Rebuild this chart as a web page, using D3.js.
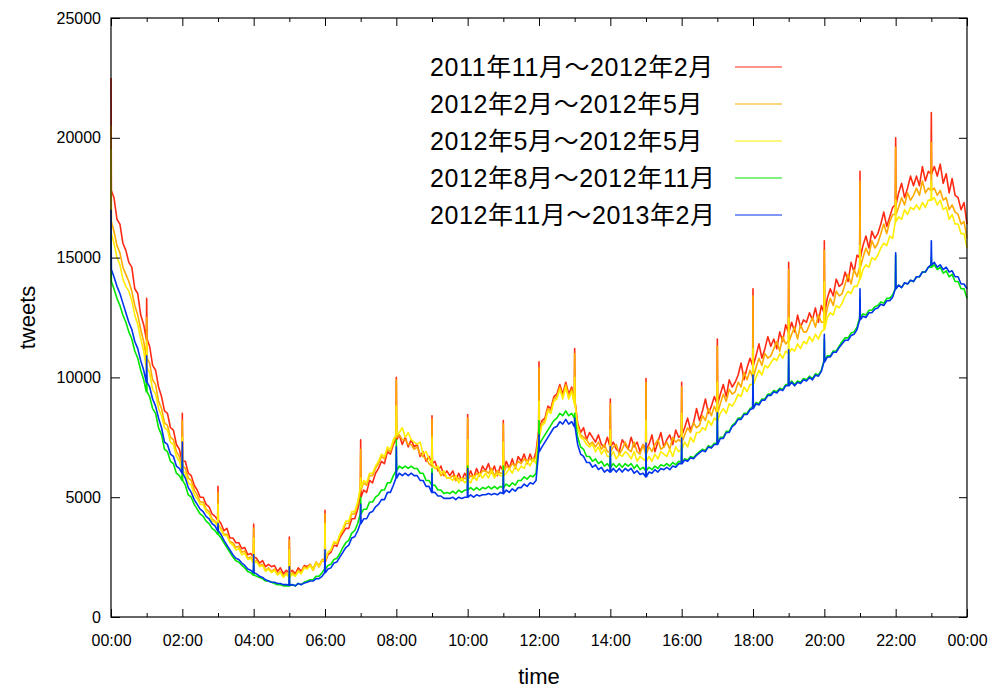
<!DOCTYPE html>
<html>
<head>
<meta charset="utf-8">
<script src="https://cdnjs.cloudflare.com/ajax/libs/d3/7.8.5/d3.min.js"></script>
<style>
  body { margin: 0; background: #fff; }
  svg { display: block; }
</style>
</head>
<body>
<div id="chart"></div>
<script>
// Chart size and plot frame
const width = 994;
const height = 690;
const margin = { top: 18, right: 27, bottom: 73, left: 111 };

// Legend labels
const seriesNames = [
    "2011年11月〜2012年2月",
    "2012年2月〜2012年5月",
    "2012年5月〜2012年5月",
    "2012年8月〜2012年11月",
    "2012年11月〜2013年2月"
];
const seriesColors = ["#ff2a14", "#ffaa00", "#ffee00", "#00e600", "#0033ee"];

// Axis ticks
const yTicks = [0, 5000, 10000, 15000, 20000, 25000];
const xMajorTicks = [0, 120, 240, 360, 480, 600, 720, 840, 960, 1080, 1200, 1320, 1440];
const xMinorTicks = [60, 180, 300, 420, 540, 660, 780, 900, 1020, 1140, 1260, 1380];
const xTickLabels = ["00:00", "02:00", "04:00", "06:00", "08:00", "10:00", "12:00",
    "14:00", "16:00", "18:00", "20:00", "22:00", "00:00"];

// Tweets per minute, sampled every 5 minutes (one row = one hour, last value = 24:00)
const red = [
    17800, 17500, 16600, 16400, 15600, 15300, 14800, 14600, 13700, 13500, 12600, 12200,
    11600, 11300, 10500, 10300, 9600, 9200, 8600, 8500, 7900, 7800, 7200, 7000,
    6500, 6500, 6000, 5900, 5500, 5300, 5000, 5000, 4700, 4600, 4300, 4200,
    4050, 3900, 3600, 3700, 3300, 3300, 3100, 3100, 2850, 2900, 2600, 2650,
    2500, 2450, 2250, 2350, 2100, 2200, 2100, 2150, 1900, 2050, 1800, 1950,
    1850, 1950, 1800, 2050, 1900, 2150, 2100, 2200, 1950, 2250, 2100, 2350,
    2300, 2600, 2700, 3000, 2950, 3300, 3500, 3700, 3700, 4100, 4100, 4500,
    5000, 5300, 5200, 5700, 5600, 6000, 6200, 6500, 6400, 6900, 6800, 7200,
    7400, 7600, 7200, 7500, 7100, 7400, 7100, 7200, 6700, 6900, 6500, 6700,
    6400, 6500, 6100, 6300, 5900, 6100, 5900, 6100, 5700, 6000, 5700, 6000,
    5800, 6100, 5800, 6200, 5900, 6300, 6100, 6400, 6000, 6300, 5900, 6300,
    6100, 6500, 6200, 6600, 6200, 6700, 6500, 6800, 6400, 6800, 6500, 6900,
    7800, 8200, 8300, 8800, 8700, 9200, 9300, 9700, 9300, 9800, 9300, 9600,
    9000, 8100, 7700, 7900, 7400, 7700, 7500, 7300, 7600, 7200, 7100, 7500,
    7100, 7300, 7000, 6900, 7400, 7200, 7000, 7500, 7100, 7300, 6900, 7200,
    7000, 7200, 7600, 6900, 7300, 7700, 7100, 7400, 7600, 7200, 7800, 7500,
    7600, 7900, 8300, 7800, 8100, 8700, 8200, 8600, 9100, 8500, 8800, 9200,
    8900, 9300, 9700, 9200, 9900, 9600, 9800, 10100, 10600, 9900, 10400, 10800,
    10500, 10900, 11400, 10800, 11200, 11700, 11300, 11600, 11200, 11900, 11500, 12200,
    11900, 12300, 11900, 12600, 12100, 12400, 12300, 12700, 12400, 12900, 12300, 13000,
    12700, 13300, 13700, 13400, 14100, 13800, 13900, 14400, 14000, 14800, 14400, 15100,
    15000, 15500, 15900, 15400, 16100, 15800, 16000, 16400, 16900, 16300, 16700, 17100,
    17200, 17700, 18100, 17500, 17900, 18400, 18000, 18400, 18000, 18800, 18200, 18600,
    18500, 18800, 18400, 18900, 18100, 18500, 17700, 18300, 17600, 17500, 17000, 17300,
    16400
];
const orange = [
    16500, 16100, 15500, 15200, 14600, 14300, 14000, 13600, 13000, 12600, 12000, 11500,
    10800, 10600, 9900, 9700, 9000, 8700, 8100, 8000, 7500, 7400, 6900, 6700,
    6300, 6200, 5800, 5700, 5300, 5100, 4800, 4800, 4500, 4400, 4100, 4000,
    3850, 3700, 3450, 3450, 3150, 3100, 2900, 2950, 2700, 2750, 2450, 2500,
    2300, 2350, 2150, 2200, 1950, 2050, 1900, 2000, 1800, 1900, 1700, 1850,
    1700, 1850, 1750, 1950, 1850, 2100, 2050, 2200, 2000, 2300, 2150, 2400,
    2400, 2700, 2800, 3100, 3050, 3400, 3600, 3900, 3900, 4300, 4300, 4700,
    5300, 5600, 5500, 5900, 5900, 6200, 6400, 6700, 6600, 7000, 6900, 7300,
    7500, 7600, 7400, 7400, 7200, 7200, 7000, 7100, 6800, 6700, 6600, 6400,
    6300, 6200, 6200, 5900, 6000, 5800, 5800, 5900, 5700, 5800, 5700, 5800,
    5750, 5900, 5800, 6000, 5900, 6100, 6100, 6000, 6200, 5900, 6100, 6000,
    6000, 6300, 6200, 6400, 6300, 6500, 6400, 6600, 6500, 6600, 6500, 6700,
    7700, 8100, 8200, 8700, 8600, 9100, 9200, 9600, 9200, 9700, 9200, 9500,
    9000, 8000, 7600, 7500, 7400, 7200, 7300, 7100, 7300, 7000, 7200, 6900,
    6900, 7100, 7200, 6800, 7000, 7300, 7000, 6900, 7300, 6900, 6800, 7200,
    6800, 7100, 6900, 7200, 7400, 7000, 7100, 7300, 7000, 7500, 7300, 7400,
    7300, 7600, 7900, 7700, 8100, 7900, 8000, 8400, 8200, 8700, 8400, 8800,
    8500, 8900, 9300, 9000, 9500, 9300, 9400, 9800, 9600, 10200, 9900, 10300,
    10000, 10400, 10800, 10500, 11000, 10800, 10900, 11200, 11500, 11100, 11700, 11400,
    11500, 11800, 12100, 11600, 12200, 11900, 11900, 12200, 12500, 12100, 12600, 12300,
    12300, 12900, 13300, 13000, 13600, 13400, 13500, 13900, 14300, 13900, 14500, 14200,
    14600, 15000, 15400, 15100, 15700, 15400, 15600, 16000, 16400, 16000, 16500, 16800,
    16800, 17100, 17500, 17200, 17700, 17400, 17600, 17900, 17600, 18200, 17700, 17900,
    17800, 17900, 17600, 17800, 17400, 17500, 17000, 17200, 16900, 16800, 16400, 16500,
    15800
];
const yellow = [
    16000, 15600, 15000, 14700, 14100, 13800, 13600, 13200, 12600, 12200, 11600, 11100,
    10400, 10200, 9500, 9300, 8700, 8400, 7900, 7800, 7300, 7200, 6700, 6500,
    6100, 6000, 5600, 5500, 5100, 4950, 4700, 4700, 4400, 4300, 4000, 3950,
    3800, 3650, 3400, 3400, 3100, 3000, 2800, 2850, 2600, 2650, 2400, 2450,
    2250, 2300, 2100, 2150, 1900, 2000, 1850, 1950, 1750, 1850, 1650, 1800,
    1650, 1800, 1700, 1900, 1800, 2050, 2000, 2150, 1950, 2250, 2100, 2350,
    2350, 2700, 2800, 3150, 3100, 3450, 3700, 4000, 4000, 4400, 4400, 4800,
    5400, 5700, 5600, 6000, 6000, 6300, 6500, 6800, 6700, 7100, 7000, 7400,
    7600, 7700, 7900, 7500, 7700, 7400, 7300, 7200, 7300, 6800, 6900, 6600,
    6400, 6200, 6300, 6000, 6100, 5800, 5800, 5700, 5900, 5600, 5800, 5600,
    5700, 5600, 5900, 5700, 6000, 5800, 6000, 5800, 6100, 5800, 6000, 5900,
    5900, 6000, 6200, 6000, 6300, 6100, 6300, 6200, 6500, 6300, 6600, 6400,
    7500, 8000, 8100, 8600, 8500, 9000, 9100, 9500, 9100, 9600, 9100, 9400,
    8900, 7900, 7500, 7400, 7200, 7100, 7200, 6900, 7100, 6800, 7000, 6700,
    6700, 6900, 6600, 6800, 6700, 6900, 6800, 6600, 6900, 6500, 6700, 6600,
    6500, 6700, 6500, 6800, 6600, 6900, 6800, 6700, 7000, 6700, 7100, 6900,
    7000, 7300, 7100, 7500, 7300, 7700, 7700, 7900, 7800, 8200, 8000, 8300,
    8200, 8500, 8700, 8500, 8900, 8800, 9000, 9300, 9200, 9600, 9400, 9700,
    9700, 10000, 10300, 10100, 10500, 10400, 10600, 10800, 10700, 11000, 10800, 11100,
    11000, 11200, 11100, 11400, 11200, 11500, 11400, 11700, 11500, 11800, 11600, 11900,
    12000, 12500, 12700, 12600, 13000, 12900, 13100, 13400, 13600, 13500, 13800, 13800,
    14100, 14500, 14700, 14600, 15000, 14900, 15100, 15400, 15600, 15500, 15900, 15800,
    16500, 16700, 16600, 17000, 16800, 17100, 17000, 17200, 17000, 17300, 17100, 17400,
    17400, 17500, 17200, 17400, 17000, 17100, 16600, 16800, 16400, 16400, 16000, 16000,
    15400
];
const green = [
    14000, 13700, 13300, 13000, 12600, 12300, 11900, 11600, 11100, 10800, 10300, 9900,
    9400, 9200, 8700, 8500, 7900, 7600, 7000, 6900, 6500, 6400, 6000, 5900,
    5700, 5500, 5100, 5000, 4700, 4500, 4300, 4200, 4000, 3900, 3700, 3600,
    3450, 3300, 3100, 2900, 2700, 2500, 2350, 2300, 2150, 2050, 1900, 1850,
    1750, 1700, 1650, 1600, 1500, 1500, 1450, 1400, 1350, 1350, 1300, 1300,
    1300, 1350, 1300, 1400, 1350, 1450, 1500, 1550, 1550, 1700, 1700, 1850,
    2000, 2150, 2200, 2400, 2450, 2650, 2900, 3100, 3200, 3500, 3600, 3900,
    4300, 4500, 4500, 4800, 4800, 5000, 5100, 5300, 5300, 5600, 5600, 5900,
    6100, 6300, 6200, 6300, 6200, 6300, 6200, 6200, 6000, 6000, 5700, 5700,
    5500, 5500, 5300, 5300, 5150, 5200, 5150, 5250, 5150, 5300, 5200, 5300,
    5300, 5400, 5300, 5400, 5300, 5400, 5350, 5450, 5350, 5450, 5350, 5450,
    5400, 5550, 5450, 5600, 5500, 5700, 5700, 5850, 5750, 5900, 5850, 6000,
    7200, 7400, 7600, 7800, 8000, 8200, 8300, 8500, 8400, 8600, 8400, 8500,
    8300, 7500, 7100, 7000, 6700, 6700, 6500, 6600, 6400, 6500, 6300, 6400,
    6250, 6400, 6250, 6400, 6250, 6400, 6300, 6400, 6200, 6350, 6150, 6250,
    6100, 6250, 6150, 6300, 6200, 6350, 6300, 6400, 6300, 6450, 6350, 6500,
    6450, 6600, 6550, 6700, 6650, 6800, 6900, 7000, 6950, 7150, 7100, 7250,
    7250, 7500, 7500, 7750, 7750, 8000, 8100, 8300, 8300, 8500, 8500, 8700,
    8750, 8950, 8900, 9100, 9100, 9300, 9300, 9450, 9400, 9550, 9500, 9700,
    9700, 9850, 9700, 9850, 9800, 9950, 9900, 10050, 9950, 10150, 10100, 10300,
    10700, 10900, 10900, 11100, 11100, 11300, 11500, 11650, 11650, 11850, 11900, 12100,
    12500, 12650, 12600, 12800, 12800, 12950, 13000, 13150, 13100, 13300, 13300, 13450,
    13700, 13850, 13750, 13950, 13900, 14050, 14000, 14200, 14200, 14400, 14400, 14600,
    14600, 14700, 14500, 14600, 14350, 14450, 14200, 14300, 14000, 14000, 13700, 13700,
    13300
];
const blue = [
    14500, 14200, 13800, 13500, 13100, 12700, 12300, 12000, 11500, 11200, 10700, 10300,
    9800, 9600, 9100, 8800, 8300, 7900, 7300, 7200, 6800, 6700, 6300, 6200,
    6000, 5800, 5400, 5200, 4900, 4700, 4500, 4400, 4200, 4100, 3900, 3800,
    3600, 3450, 3200, 3000, 2800, 2600, 2450, 2400, 2250, 2150, 2000, 1950,
    1850, 1800, 1700, 1650, 1550, 1500, 1450, 1450, 1400, 1400, 1350, 1350,
    1330, 1350, 1300, 1400, 1350, 1420, 1450, 1500, 1500, 1600, 1600, 1700,
    1850, 2000, 2050, 2250, 2300, 2500, 2700, 2900, 3000, 3300, 3350, 3600,
    3900, 4100, 4100, 4350, 4400, 4600, 4700, 4900, 4900, 5200, 5200, 5500,
    5800, 6000, 5900, 6000, 5900, 6000, 5900, 5900, 5700, 5700, 5450, 5450,
    5200, 5200, 5050, 5050, 4950, 4950, 4950, 5000, 4900, 5000, 4950, 5000,
    5000, 5100, 5000, 5100, 5050, 5100, 5100, 5150, 5100, 5150, 5100, 5200,
    5150, 5300, 5200, 5350, 5250, 5400, 5400, 5550, 5450, 5600, 5550, 5700,
    6900, 7100, 7300, 7500, 7700, 7900, 7950, 8150, 8050, 8250, 8050, 8150,
    7950, 7200, 6800, 6700, 6450, 6450, 6250, 6350, 6150, 6250, 6050, 6150,
    6050, 6200, 6050, 6200, 6050, 6200, 6100, 6200, 6000, 6100, 5950, 6000,
    5850, 6050, 6000, 6150, 6050, 6200, 6150, 6250, 6150, 6300, 6250, 6400,
    6400, 6550, 6500, 6650, 6600, 6750, 6850, 6950, 6900, 7100, 7050, 7200,
    7200, 7450, 7450, 7700, 7700, 7950, 8050, 8250, 8250, 8450, 8450, 8650,
    8700, 8900, 8850, 9050, 9050, 9250, 9250, 9400, 9350, 9500, 9450, 9650,
    9650, 9800, 9650, 9800, 9750, 9900, 9850, 10000, 9900, 10100, 10050, 10250,
    10650, 10850, 10850, 11050, 11050, 11250, 11400, 11550, 11550, 11750, 11800, 12000,
    12400, 12550, 12500, 12700, 12700, 12850, 12900, 13050, 13000, 13200, 13200, 13350,
    13700, 13850, 13750, 13950, 13900, 14050, 14000, 14200, 14200, 14400, 14400, 14600,
    14700, 14800, 14600, 14700, 14500, 14600, 14400, 14450, 14200, 14200, 13900, 13900,
    13700
];

// On-the-hour spikes (00:00 .. 23:00)
const redSpikes = [22500, 13300, 8500, 5450, 3880, 3340, 4450, 7400, 10000, 8400, 8450, 8200,
    10650, 11200, 9100, 9950, 9800, 11600, 13700, 14800, 15700, 18600, 20000, 21050];
const orangeSpikes = [20500, 12500, 8200, 5200, 3700, 3200, 4300, 7000, 9900, 8250, 8300, 8050,
    10400, 11000, 8900, 9800, 9600, 11300, 13400, 14500, 15300, 18200, 19600, 19800];
const yellowSpikes = [19500, 11500, 7500, 4700, 3300, 2800, 3900, 5800, 8800, 7500, 7400, 7300,
    9000, 10000, 7800, 8200, 8500, 9800, 11200, 12500, 14000, 15500, 17400, 18200];
const greenSpikes = [16000, 10000, 6500, 3600, 2200, 1800, 2400, 5000, 7400, 6200, 6300, 6300,
    8200, 8500, 6800, 7000, 7200, 8500, 9800, 11000, 11600, 13300, 15100, 15000];
const blueSpikes = [17000, 10900, 7300, 3900, 2600, 2100, 2800, 4700, 7100, 6000, 6200, 6100,
    7600, 8300, 7100, 7260, 7470, 8520, 10100, 11150, 11800, 13700, 15200, 15700];

const seriesValues = [red, orange, yellow, green, blue];
const seriesSpikes = [redSpikes, orangeSpikes, yellowSpikes, greenSpikes, blueSpikes];

const svg = d3.select("#chart")
    .append("svg")
    .attr("width", width)
    .attr("height", height);

const x = d3.scaleLinear().domain([0, 1440]).range([margin.left, width - margin.right]);
const y = d3.scaleLinear().domain([0, 25000]).range([height - margin.bottom, margin.top]);

const axisFont = "'Liberation Sans', Arial, Helvetica, sans-serif";

// turn 5-minute samples + hourly spikes into line points
function buildPoints(values, spikes) {
    const pts = [];
    values.forEach((v, i) => {
        const t = i * 5;
        const h = t / 60;
        if (t % 60 === 0 && h < spikes.length) {
            if (t > 0) pts.push([t - 0.6, v]);
            pts.push([t, spikes[h]]);
            pts.push([t + 0.6, v]);
        } else {
            pts.push([t, v]);
        }
    });
    return pts;
}

const line = d3.line()
    .x(d => x(d[0]))
    .y(d => y(d[1]));

svg.append("g")
    .selectAll("path")
    .data(seriesValues.map((v, i) => buildPoints(v, seriesSpikes[i])))
    .enter()
    .append("path")
    .attr("d", line)
    .attr("fill", "none")
    .attr("stroke", (d, i) => seriesColors[i])
    .attr("stroke-width", 1.6)
    .attr("stroke-linejoin", "round");

// axes (ticks pointing inward)
svg.append("g")
    .attr("class", "labelled")
    .attr("transform", `translate(0,${height - margin.bottom})`)
    .call(d3.axisBottom(x).tickValues(xMajorTicks).tickSize(-8).tickPadding(18)
        .tickFormat((d, i) => xTickLabels[i]));
svg.append("g")
    .attr("transform", `translate(0,${height - margin.bottom})`)
    .call(d3.axisBottom(x).tickValues(xMinorTicks).tickSize(-4).tickFormat(""));
svg.append("g")
    .attr("transform", `translate(0,${margin.top})`)
    .call(d3.axisTop(x).tickValues(xMajorTicks).tickSize(-8).tickFormat(""));
svg.append("g")
    .attr("transform", `translate(0,${margin.top})`)
    .call(d3.axisTop(x).tickValues(xMinorTicks).tickSize(-4).tickFormat(""));
svg.append("g")
    .attr("class", "labelled")
    .attr("transform", `translate(${margin.left},0)`)
    .call(d3.axisLeft(y).tickValues(yTicks).tickSize(-9).tickPadding(10).tickFormat(d3.format("d")));
svg.append("g")
    .attr("transform", `translate(${width - margin.right},0)`)
    .call(d3.axisRight(y).tickValues(yTicks).tickSize(-8).tickFormat(""));

svg.selectAll(".labelled")
    .attr("font-family", axisFont)
    .attr("font-size", 16);
svg.selectAll(".domain").remove();
svg.selectAll(".tick line").attr("stroke", "#000");
svg.selectAll(".tick text").attr("fill", "#000");

// frame
svg.append("rect")
    .attr("x", margin.left)
    .attr("y", margin.top)
    .attr("width", width - margin.left - margin.right)
    .attr("height", height - margin.top - margin.bottom)
    .attr("fill", "none")
    .attr("stroke", "#000")
    .attr("stroke-width", 1.2);

// axis titles
svg.append("text")
    .attr("x", x(720))
    .attr("y", 684)
    .attr("text-anchor", "middle")
    .attr("font-family", axisFont)
    .attr("font-size", 22)
    .text("time");

svg.append("text")
    .attr("transform", `translate(35,${y(12500)}) rotate(-90)`)
    .attr("text-anchor", "middle")
    .attr("font-family", axisFont)
    .attr("font-size", 22)
    .text("tweets");

// legend
const legend = svg.append("g")
    .selectAll("g")
    .data(seriesNames)
    .enter()
    .append("g")
    .attr("transform", (d, i) => `translate(0,${67 + i * 37})`);

legend.append("text")
    .attr("x", 430)
    .attr("y", 9)
    .attr("font-family", "'Liberation Sans', 'Noto Sans CJK JP', sans-serif")
    .attr("font-size", 25)
    .attr("letter-spacing", 0.6)
    .attr("fill", "#000")
    .text(d => d);

legend.append("line")
    .attr("x1", 735)
    .attr("x2", 782)
    .attr("y1", 0)
    .attr("y2", 0)
    .attr("stroke", (d, i) => seriesColors[i])
    .attr("stroke-width", 1.2);
</script>
</body>
</html>
